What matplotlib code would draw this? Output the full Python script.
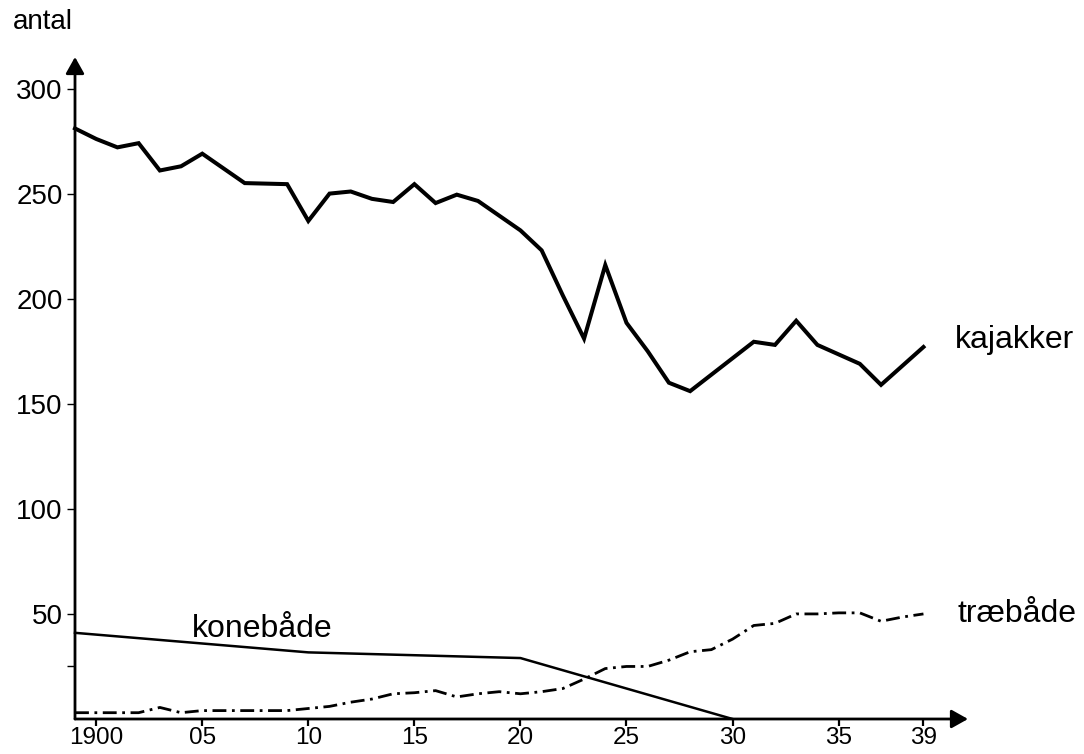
import matplotlib
matplotlib.use("Agg")
import matplotlib.pyplot as plt

plt.rcParams['font.family'] = ['Liberation Sans', 'DejaVu Sans']

# kajakker (kayaks)
kaj_years = [1899, 1900, 1901, 1902, 1903, 1904, 1905, 1907, 1909, 1910, 1911,
             1912, 1913, 1914, 1915, 1916, 1917, 1918, 1919, 1920, 1921, 1922,
             1923, 1924, 1925, 1926, 1927, 1928, 1931, 1932, 1933, 1934, 1936,
             1937, 1939]
kaj_values = [281, 276, 272, 274, 261, 263, 269, 255, 254.5, 237, 250,
              251, 247.5, 246, 254.5, 245.5, 249.5, 246.5, 239.5, 232.5, 223, 201.5,
              181, 216, 188.5, 175, 160, 156, 179.5, 178, 189.5, 178, 169,
              159, 177]

# konebåde (women's boats / umiaks)
kone_years = [1899, 1910, 1920, 1930]
kone_values = [41, 31.7, 29, 0]

# træbåde (wooden boats)
trae_years = list(range(1899, 1940))
trae_values = [3, 3, 3, 3, 5.5, 3, 4, 4, 4, 4, 4,
               5, 6, 8, 9.5, 12, 12.5, 13.5, 10.5, 12, 13,
               12, 13, 14.5, 19, 24, 25, 25, 28, 32, 33,
               38, 44.5, 45.5, 50, 50, 50.5, 50.5, 46.5, 48.5, 50]

xtick_pos = [1900, 1905, 1910, 1915, 1920, 1925, 1930, 1935, 1939]
xtick_labels = ["1900", "05", "10", "15", "20", "25", "30", "35", "39"]
ytick_pos = [50, 100, 150, 200, 250, 300]
ytick_labels = ["50", "100", "150", "200", "250", "300"]

W, H = 1084, 754
fig = plt.figure(figsize=(W / 100, H / 100), dpi=100)
ax = fig.add_axes([75 / W, 1 - 719 / H, (968 - 75) / W, (719 - 57) / H])
ax.set_xlim(1899, 1941.1)
ax.set_ylim(0, 315)
for s in ax.spines.values():
    s.set_visible(False)

ax.plot(kaj_years, kaj_values, color='black', lw=2.9, solid_joinstyle='miter',
        clip_on=False)
ax.plot(kone_years, kone_values, color='black', lw=1.8, clip_on=False)
ax.plot(trae_years, trae_values, color='black', lw=2.0,
        linestyle=(0, (5, 2, 1, 2)), clip_on=False)

# axes with arrows
arrow = dict(arrowstyle='-|>,head_length=0.5,head_width=0.28', lw=2.0,
             color='black', mutation_scale=20, shrinkA=0, shrinkB=0)
ax.annotate('', xy=(1, 0), xytext=(0, 0), xycoords='axes fraction',
            textcoords='axes fraction', arrowprops=arrow)
ax.annotate('', xy=(0, 1), xytext=(0, 0), xycoords='axes fraction',
            textcoords='axes fraction', arrowprops=arrow)

ax.set_xticks(xtick_pos)
ax.set_xticklabels(xtick_labels)
ax.set_yticks(ytick_pos)
ax.set_yticklabels(ytick_labels)
ax.set_yticks([25], minor=True)
ax.tick_params(axis='x', direction='out', length=5, width=1.6, pad=0.5,
               labelsize=17.5)
ax.tick_params(axis='y', which='both', direction='out', length=6, width=1.0,
               pad=3, labelsize=20)

fig.text(13 / W, 1 - 29 / H, "antal", fontsize=20, ha='left', va='baseline')
ax.text(1940.5, 176.5, "kajakker", fontsize=23, ha='left', va='baseline')
ax.text(1940.6, (720 - 623) / 2.103, "træbåde", fontsize=23, ha='left',
        va='baseline')
ax.text(1904.5, (720 - 638) / 2.103, "konebåde", fontsize=23, ha='left',
        va='baseline')

fig.savefig("out.png", dpi=100)
